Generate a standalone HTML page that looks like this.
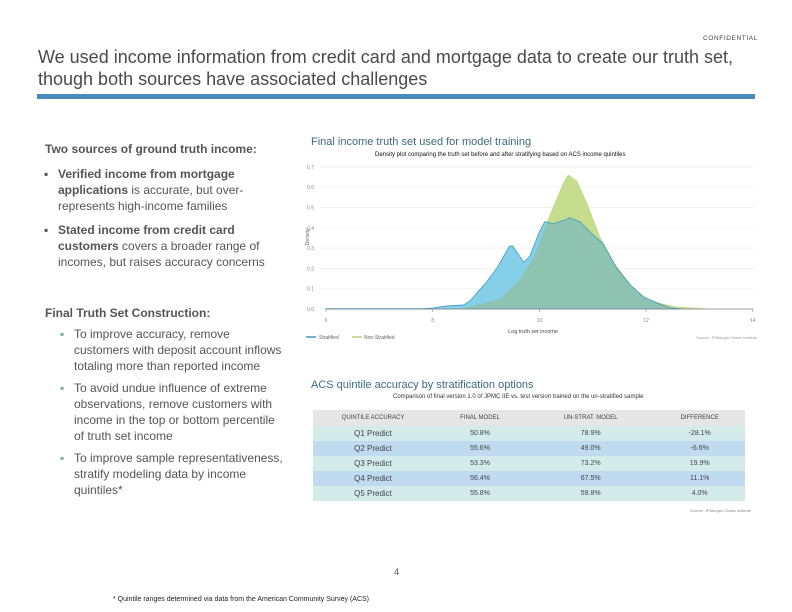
<!DOCTYPE html>
<html><head><meta charset="utf-8"><style>
body{margin:0;width:792px;height:612px;background:#fff;position:relative;font-family:"Liberation Sans",sans-serif;overflow:hidden}
.a{position:absolute;margin:0}
.t{color:#555;font-size:12px;line-height:16px}
b{color:#555}
td,th{padding:0}
</style></head><body>
<div class="a" style="left:703px;top:35px;font-size:6.5px;letter-spacing:0.6px;color:#444">CONFIDENTIAL</div>
<div class="a" style="left:38px;top:46px;font-size:18px;line-height:22px;color:#4a4a4a">We used income information from credit card and mortgage data to create our truth set,<br>though both sources have associated challenges</div>
<div class="a" style="left:37px;top:94px;width:718px;height:5px;background:#4a8bbd"></div>

<div class="a t" style="left:45px;top:141px;font-weight:bold">Two sources of ground truth income:</div>
<div class="a t" style="left:44px;top:166px;width:230px"><span style="position:absolute;left:0">▪</span><div style="margin-left:14px"><b>Verified income from mortgage applications</b> is accurate, but over-represents high-income families</div></div>
<div class="a t" style="left:44px;top:222px;width:230px"><span style="position:absolute;left:0">▪</span><div style="margin-left:14px"><b>Stated income from credit card customers</b> covers a broader range of incomes, but raises accuracy concerns</div></div>
<div class="a t" style="left:45px;top:305px;font-weight:bold">Final Truth Set Construction:</div>
<div class="a t" style="left:60px;top:326px;width:225px"><span style="position:absolute;left:0;color:#7aa">▪</span><div style="margin-left:14px">To improve accuracy, remove customers with deposit account inflows totaling more than reported income</div></div>
<div class="a t" style="left:60px;top:380px;width:225px"><span style="position:absolute;left:0;color:#7aa">▪</span><div style="margin-left:14px">To avoid undue influence of extreme observations, remove customers with income in the top or bottom percentile of truth set income</div></div>
<div class="a t" style="left:60px;top:450px;width:225px"><span style="position:absolute;left:0;color:#7aa">▪</span><div style="margin-left:14px">To improve sample representativeness, stratify modeling data by income quintiles*</div></div>

<div class="a" style="left:311px;top:136px;font-size:11px;color:#3d6a80">Final income truth set used for model training</div>
<div class="a" style="left:375px;top:152px;font-size:6px;color:#111">Density plot comparing the truth set before and after stratifying based on ACS income quintiles</div>

<svg class="a" style="left:0;top:0" width="792" height="612">
<defs><clipPath id="blueclip"><path id="bclipPath"/></clipPath></defs>
<g id="grid"></g><g id="areas"></g><g id="axes"></g>
</svg>

<div class="a" style="left:311px;top:379px;font-size:11px;color:#3d6a80">ACS quintile accuracy by stratification options</div>
<div class="a" style="left:393px;top:394px;font-size:6px;color:#333">Comparison of final version 1.0 of JPMC IIE vs. test version trained on the un-stratified sample</div>
<table class="a" style="left:313px;top:410px;width:432px;border-collapse:collapse;font-size:7px;color:#444;text-align:center">
<tr style="background:#e6e6e6;height:16px;font-size:6px"><th style="width:120px;font-weight:normal">QUINTILE ACCURACY</th><th style="font-weight:normal">FINAL MODEL</th><th style="font-weight:normal">UN-STRAT. MODEL</th><th style="font-weight:normal">DIFFERENCE</th></tr>
<tr style="background:#d3ecea;height:15px"><td style="font-size:8px">Q1 Predict</td><td>50.8%</td><td>78.9%</td><td>-28.1%</td></tr>
<tr style="background:#bedbef;height:15px"><td style="font-size:8px">Q2 Predict</td><td>55.6%</td><td>49.0%</td><td>-6.6%</td></tr>
<tr style="background:#d3ecea;height:15px"><td style="font-size:8px">Q3 Predict</td><td>53.3%</td><td>73.2%</td><td>19.9%</td></tr>
<tr style="background:#bedbef;height:15px"><td style="font-size:8px">Q4 Predict</td><td>56.4%</td><td>67.5%</td><td>11.1%</td></tr>
<tr style="background:#d3ecea;height:15px"><td style="font-size:8px">Q5 Predict</td><td>55.8%</td><td>59.8%</td><td>4.0%</td></tr>
</table>
<div class="a" style="left:690px;top:508px;font-size:4px;color:#888">Source: JPMorgan Chase Institute</div>

<div class="a" style="left:394px;top:567px;font-size:9px;color:#555">4</div>
<div class="a" style="left:113px;top:596px;font-size:7px;color:#222">* Quintile ranges determined via data from the American Community Survey (ACS)</div>

<script>
const xTicks=[6,8,10,12,14];
const yTicks=[0,0.1,0.2,0.3,0.4,0.5,0.6,0.7];
const blueX=[6,7.8,8.0,8.26,8.58,8.7,8.9,9.0,9.2,9.44,9.5,9.71,9.82,10.0,10.1,10.26,10.5,10.57,10.76,10.95,11.2,11.45,11.7,11.95,12.2,12.45,12.7];
const blueY=[0.002,0.002,0.005,0.015,0.02,0.04,0.1,0.13,0.2,0.31,0.31,0.23,0.26,0.38,0.43,0.42,0.44,0.45,0.43,0.38,0.32,0.2,0.12,0.06,0.03,0.005,0];
const greenX=[8.5,8.83,9.26,9.58,9.89,10.1,10.26,10.45,10.54,10.7,10.89,11.14,11.39,11.7,12.0,12.3,12.56,13.0,13.2];
const greenY=[0,0.02,0.05,0.13,0.25,0.4,0.5,0.62,0.66,0.63,0.52,0.35,0.23,0.12,0.05,0.025,0.01,0.003,0];
const sx=v=>326+(v-6)*53.35, sy=v=>309-v*203;
const NS='http://www.w3.org/2000/svg';
function mk(t,a,p){const e=document.createElementNS(NS,t);for(const k in a)e.setAttribute(k,a[k]);p.appendChild(e);return e;}
const grid=document.getElementById('grid'),areas=document.getElementById('areas'),axes=document.getElementById('axes');
yTicks.forEach(v=>{
 const l=mk('line',{x1:320,x2:755,y1:sy(v),y2:sy(v),stroke:'#eee','stroke-width':0.7},grid);
 
 
 const t=mk('text',{x:314,y:sy(v)+2,'font-size':5,fill:'#888','text-anchor':'end','font-family':'Liberation Sans'},axes);t.textContent=v.toFixed(1);
 
 
});
xTicks.forEach(v=>{
 const t=mk('text',{x:sx(v),y:sy(0)+13,'font-size':5,fill:'#888','text-anchor':'middle','font-family':'Liberation Sans'},axes);t.textContent=v;
 
 
 mk('line',{x1:sx(v),x2:sx(v),y1:sy(0),y2:sy(0)+3,stroke:'#888','stroke-width':0.6},axes);
});
const ax=mk('line',{x1:sx(6),x2:sx(14),y1:sy(0),y2:sy(0),stroke:'#888','stroke-width':0.7},axes);


function path(X,Y){let d='M'+sx(X[0])+','+sy(0);X.forEach((x,i)=>d+=' L'+sx(x)+','+sy(Y[i]));return d+' L'+sx(X[X.length-1])+','+sy(0)+'Z';}
const gd=path(greenX,greenY), bd=path(blueX,blueY);
document.getElementById('bclipPath').setAttribute('d',bd);
const g=mk('path',{d:gd,fill:'#c5dd8c',stroke:'#b4d27a','stroke-width':0.6},areas);


const b=mk('path',{d:bd,fill:'#86cfe9'},areas);


const ov=mk('path',{d:gd,fill:'#8ec3b2','clip-path':'url(#blueclip)'},areas);


const bl=mk('path',{d:bd,fill:'none',stroke:'#3f9cc2','stroke-width':0.8},areas);


function txt(x,y,s,str,name,anchor,col){const t=mk('text',{x:x,y:y,'font-size':s,fill:col||'#666','text-anchor':anchor||'start','font-family':'Liberation Sans'},axes);t.textContent=str;
 
 }
txt(533,333,5.5,'Log truth set income','x-axis-title','middle','#444');
const yl=mk('text',{x:0,y:0,'font-size':5,fill:'#666','text-anchor':'middle',transform:'translate(309,237) rotate(-90)','font-family':'Liberation Sans'},axes);yl.textContent='Density';


mk('line',{x1:306,x2:316,y1:337,y2:337,stroke:'#3f9cc2','stroke-width':1.5},axes);
txt(319,339,5,'Stratified','legend-stratified');
mk('line',{x1:352,x2:362,y1:337,y2:337,stroke:'#b4d27a','stroke-width':1.5},axes);
txt(364,339,5,'Non-Stratified','legend-non-stratified');
txt(757,339,4,'Source: JPMorgan Chase Institute','chart-source','end','#999');
</script>
</body></html>
